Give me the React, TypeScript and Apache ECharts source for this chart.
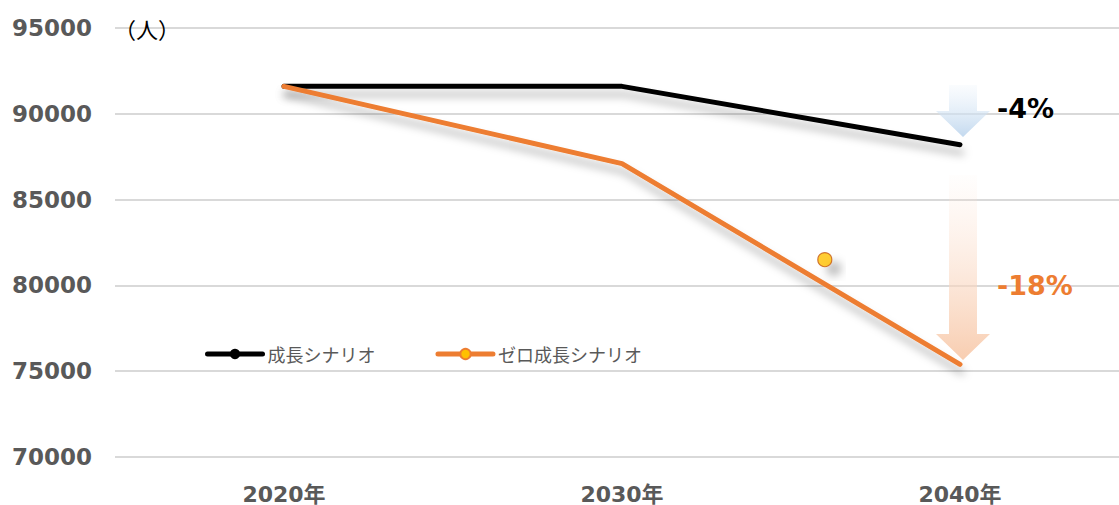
import { useEffect, useRef } from "react";
import * as echarts from "echarts";

// Population scenarios (people)
const years = ["2020年", "2030年", "2040年"];
const seriesNames = ["成長シナリオ", "ゼロ成長シナリオ"];
const growth = [91600, 91600, 88200];
const zeroGrowth = [91600, 87100, 75400];
// loose marker sitting between 2030 and 2040 (x in category-index units)
const looseMarker = [[1.6, 81500]];
const yMin = 70000;
const yMax = 95000;
const yStep = 5000;
// spans of the decline arrows beside 2040 (value units)
const growthArrow = [91680, 88650];
const zeroArrow = [86430, 75650];
const unitLabel = "（人）";

const pct = (arr: number[]) =>
  `${Math.round(((arr[arr.length - 1] - arr[0]) / arr[0]) * 100)}%`;

const GRAY = "#595959";
const ORANGE = "#ED7D31";
const NUM_FONT = "DejaVu Sans";
const JP_FONT = "'Noto Sans CJK JP', sans-serif";

export default function App() {
  const ref = useRef<HTMLDivElement>(null);

  useEffect(() => {
    document.body.style.margin = "0";
    document.body.style.overflow = "hidden";
    const chart = echarts.init(ref.current!, undefined, { renderer: "svg" });
    const shadow = {
      shadowColor: "rgba(0,0,0,0.28)",
      shadowBlur: 8,
      shadowOffsetY: 8,
      shadowOffsetX: 2,
    };
    chart.setOption({
      animation: false,
      grid: { left: 115, right: 0, top: 28, bottom: 48, containLabel: false },
      legend: {
        data: seriesNames,
        left: 200,
        top: 340,
        itemWidth: 55,
        itemHeight: 13,
        itemGap: 60,
        lineStyle: { width: 5 },
        textStyle: { color: GRAY, fontSize: 18, fontFamily: JP_FONT },
      },
      xAxis: [
        {
          type: "category",
          data: years,
          axisLine: { show: false },
          axisTick: { show: false },
          axisLabel: {
            color: GRAY,
            fontSize: 22,
            fontWeight: "bold",
            fontFamily: `${NUM_FONT}, 'Noto Sans CJK JP'`,
            margin: 26,
          },
        },
        {
          // hidden numeric twin of the category axis (category i sits at value i)
          type: "value",
          min: -0.5,
          max: years.length - 0.5,
          show: false,
        },
      ],
      yAxis: {
        type: "value",
        min: yMin,
        max: yMax,
        interval: yStep,
        axisLine: { show: false },
        axisTick: { show: false },
        splitLine: { lineStyle: { color: "#d9d9d9", width: 2 } },
        axisLabel: {
          color: GRAY,
          fontSize: 23,
          fontWeight: "bold",
          fontFamily: NUM_FONT,
          margin: 23,
          formatter: (v: number) => String(v),
        },
      },
      series: [
        {
          name: seriesNames[0],
          type: "line",
          data: growth,
          symbol: "circle",
          symbolSize: 10,
          showSymbol: false,
          itemStyle: { color: "#000" },
          lineStyle: { color: "#000", width: 5, cap: "round", join: "round", ...shadow },
        },
        {
          name: seriesNames[1],
          type: "line",
          data: zeroGrowth,
          symbol: "circle",
          symbolSize: 10,
          showSymbol: false,
          itemStyle: { color: "#FFC000", borderColor: ORANGE, borderWidth: 1.5 },
          lineStyle: { color: ORANGE, width: 5, cap: "round", join: "round", ...shadow },
        },
        {
          name: "marker",
          type: "scatter",
          xAxisIndex: 1,
          data: looseMarker,
          symbol: "circle",
          symbolSize: 14,
          itemStyle: {
            color: "#FFC000",
            borderColor: "#C55A11",
            borderWidth: 1.2,
            shadowColor: "rgba(0,0,0,0.3)",
            shadowBlur: 8,
            shadowOffsetX: 9,
            shadowOffsetY: 9,
          },
          z: 3,
        },
      ],
    });

    const px = (v: number) =>
      chart.convertToPixel({ xAxisIndex: 0, yAxisIndex: 0 }, [2, v]) as number[];

    const arrow = (span: number[], top: string, bottom: string) => {
      const [x0, yTop] = px(span[0]);
      const [, yTip] = px(span[1]);
      const cx = x0 + 3;
      const headH = 26;
      const hs = 14;
      const hh = 27;
      return {
        type: "polygon",
        z: 1,
        shape: {
          points: [
            [cx - hs, yTop],
            [cx + hs, yTop],
            [cx + hs, yTip - headH],
            [cx + hh, yTip - headH],
            [cx, yTip],
            [cx - hh, yTip - headH],
            [cx - hs, yTip - headH],
          ],
        },
        style: {
          fill: {
            type: "linear",
            x: 0,
            y: 0,
            x2: 0,
            y2: 1,
            colorStops: [
              { offset: 0, color: top },
              { offset: 1, color: bottom },
            ],
          },
        },
      };
    };

    const label = (text: string, value: number, color: string) => {
      const [x, y] = px(value);
      return {
        type: "text",
        x: x + 37,
        y,
        z: 5,
        style: {
          text,
          fill: color,
          font: `bold 27px ${NUM_FONT}`,
          textVerticalAlign: "middle",
          verticalAlign: "middle",
        },
      };
    };

    const [gx, gy] = chart.convertToPixel({ xAxisIndex: 0, yAxisIndex: 0 }, [0, yMax]) as number[];

    chart.setOption({
      graphic: [
        arrow(growthArrow, "rgba(222,235,247,0.15)", "#c3d9ef"),
        arrow(zeroArrow, "rgba(252,228,214,0.05)", "#f8cdb0"),
        label(pct(growth), 90300, "#000"),
        label(pct(zeroGrowth), 80000, ORANGE),
        {
          type: "text",
          x: gx - 170,
          y: gy,
          z: 5,
          style: {
            text: unitLabel,
            fill: "#000",
            font: `22px ${JP_FONT}`,
            verticalAlign: "middle",
            textVerticalAlign: "middle",
          },
        },
      ],
    });

    return () => chart.dispose();
  }, []);

  return <div ref={ref} style={{ width: 1129, height: 505 }} />;
}
